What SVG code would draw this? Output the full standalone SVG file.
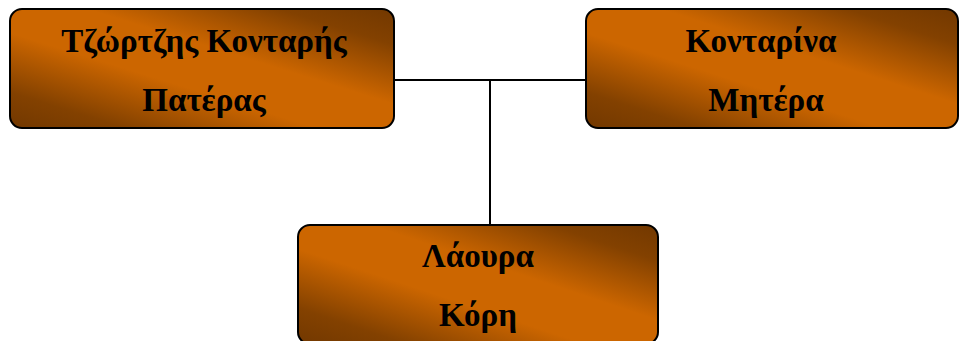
<svg xmlns="http://www.w3.org/2000/svg" width="960" height="341" viewBox="0 0 960 341">
<defs>
<linearGradient id="g" x1="1" y1="0" x2="0" y2="1">
<stop offset="0" stop-color="#723800"/>
<stop offset="0.15" stop-color="#834100"/>
<stop offset="0.4" stop-color="#cc6600"/>
<stop offset="0.6" stop-color="#cc6600"/>
<stop offset="0.85" stop-color="#834100"/>
<stop offset="1" stop-color="#723800"/>
</linearGradient>
</defs>
<style>
.box{fill:url(#g);stroke:#000;stroke-width:2}
.t{font-family:"Liberation Serif","DejaVu Serif",serif;font-weight:bold;font-size:33px;fill:#000;text-anchor:middle}
.c{stroke:#000;stroke-width:2;fill:none}
</style>
<g id="connectors">
<path class="c" d="M394 80H586M490 80V225"/>
</g>
<g id="father">
<rect class="box" x="10" y="9" width="384" height="119" rx="12"/>
<text class="t" x="204" y="52">Τζώρτζης Κονταρής</text>
<text class="t" x="204" y="111">Πατέρας</text>
</g>
<g id="mother">
<rect class="box" x="586" y="9" width="372" height="119" rx="12"/>
<text class="t" x="761" y="52">Κονταρίνα</text>
<text class="t" x="766" y="111">Μητέρα</text>
</g>
<g id="daughter">
<rect class="box" x="298" y="225" width="360" height="119" rx="12"/>
<text class="t" x="478" y="267">Λάουρα</text>
<text class="t" x="478" y="326">Κόρη</text>
</g>
</svg>
